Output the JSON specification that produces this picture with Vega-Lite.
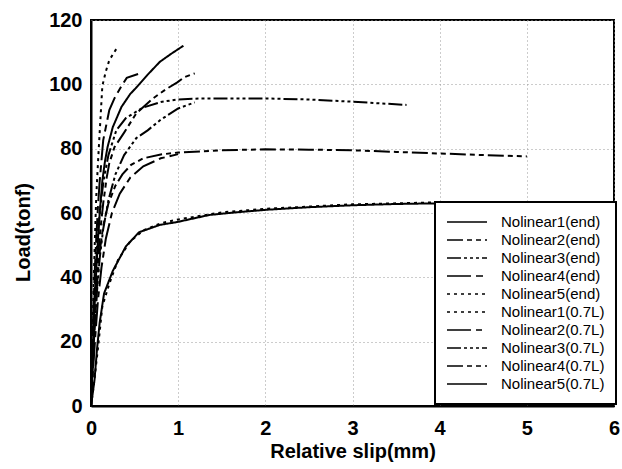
{
"$schema": "https://vega.github.io/schema/vega-lite/v6.json",
"width": 523, "height": 386,
"autosize": {"type": "none"},
"padding": {"left": 91, "top": 20, "right": 8, "bottom": 63},
"background": "white",
"config": {"view": {"stroke": "black", "strokeWidth": 2}, "font": "Liberation Sans", "legend": {"strokeWidth": 2}},
"data": {"values": [
{"s":"Nolinear1(end)","x":0,"y":0},{"s":"Nolinear1(end)","x":0.02,"y":15},{"s":"Nolinear1(end)","x":0.04,"y":30},{"s":"Nolinear1(end)","x":0.06,"y":42},{"s":"Nolinear1(end)","x":0.08,"y":52},{"s":"Nolinear1(end)","x":0.1,"y":60},{"s":"Nolinear1(end)","x":0.13,"y":70},{"s":"Nolinear1(end)","x":0.16,"y":76},{"s":"Nolinear1(end)","x":0.19,"y":80.5},{"s":"Nolinear1(end)","x":0.25,"y":86.7},{"s":"Nolinear1(end)","x":0.35,"y":93},{"s":"Nolinear1(end)","x":0.45,"y":97},{"s":"Nolinear1(end)","x":0.52,"y":99},{"s":"Nolinear1(end)","x":0.65,"y":103},{"s":"Nolinear1(end)","x":0.79,"y":107},{"s":"Nolinear1(end)","x":0.92,"y":109.5},{"s":"Nolinear1(end)","x":1.06,"y":112},
{"s":"Nolinear1(0.7L)","x":0,"y":0},{"s":"Nolinear1(0.7L)","x":0.01,"y":12},{"s":"Nolinear1(0.7L)","x":0.02,"y":25},{"s":"Nolinear1(0.7L)","x":0.03,"y":38},{"s":"Nolinear1(0.7L)","x":0.045,"y":52},{"s":"Nolinear1(0.7L)","x":0.06,"y":65},{"s":"Nolinear1(0.7L)","x":0.075,"y":73},{"s":"Nolinear1(0.7L)","x":0.09,"y":80.5},{"s":"Nolinear1(0.7L)","x":0.11,"y":90},{"s":"Nolinear1(0.7L)","x":0.13,"y":99.5},{"s":"Nolinear1(0.7L)","x":0.17,"y":104},{"s":"Nolinear1(0.7L)","x":0.21,"y":107.5},{"s":"Nolinear1(0.7L)","x":0.29,"y":111},
{"s":"Nolinear2(end)","x":0,"y":0},{"s":"Nolinear2(end)","x":0.02,"y":12},{"s":"Nolinear2(end)","x":0.04,"y":24},{"s":"Nolinear2(end)","x":0.07,"y":38},{"s":"Nolinear2(end)","x":0.1,"y":48},{"s":"Nolinear2(end)","x":0.14,"y":56},{"s":"Nolinear2(end)","x":0.2,"y":63},{"s":"Nolinear2(end)","x":0.28,"y":68.5},{"s":"Nolinear2(end)","x":0.36,"y":72},{"s":"Nolinear2(end)","x":0.46,"y":75},{"s":"Nolinear2(end)","x":0.6,"y":77},{"s":"Nolinear2(end)","x":0.8,"y":78.2},{"s":"Nolinear2(end)","x":1,"y":78.8},{"s":"Nolinear2(end)","x":1.5,"y":79.5},{"s":"Nolinear2(end)","x":2,"y":79.8},{"s":"Nolinear2(end)","x":2.5,"y":79.7},{"s":"Nolinear2(end)","x":3,"y":79.5},{"s":"Nolinear2(end)","x":3.5,"y":79},{"s":"Nolinear2(end)","x":4,"y":78.5},{"s":"Nolinear2(end)","x":4.5,"y":78},{"s":"Nolinear2(end)","x":5,"y":77.6},
{"s":"Nolinear2(0.7L)","x":0,"y":0},{"s":"Nolinear2(0.7L)","x":0.02,"y":10},{"s":"Nolinear2(0.7L)","x":0.05,"y":22},{"s":"Nolinear2(0.7L)","x":0.08,"y":33},{"s":"Nolinear2(0.7L)","x":0.12,"y":43},{"s":"Nolinear2(0.7L)","x":0.17,"y":52},{"s":"Nolinear2(0.7L)","x":0.24,"y":60},{"s":"Nolinear2(0.7L)","x":0.33,"y":66},{"s":"Nolinear2(0.7L)","x":0.45,"y":71},{"s":"Nolinear2(0.7L)","x":0.6,"y":74.5},{"s":"Nolinear2(0.7L)","x":0.8,"y":77},{"s":"Nolinear2(0.7L)","x":1,"y":78.3},
{"s":"Nolinear3(end)","x":0,"y":0},{"s":"Nolinear3(end)","x":0.015,"y":15},{"s":"Nolinear3(end)","x":0.03,"y":28},{"s":"Nolinear3(end)","x":0.05,"y":40},{"s":"Nolinear3(end)","x":0.07,"y":50},{"s":"Nolinear3(end)","x":0.09,"y":57},{"s":"Nolinear3(end)","x":0.12,"y":65},{"s":"Nolinear3(end)","x":0.15,"y":71},{"s":"Nolinear3(end)","x":0.2,"y":78},{"s":"Nolinear3(end)","x":0.29,"y":85.7},{"s":"Nolinear3(end)","x":0.4,"y":89.5},{"s":"Nolinear3(end)","x":0.59,"y":92.7},{"s":"Nolinear3(end)","x":0.8,"y":94.5},{"s":"Nolinear3(end)","x":0.99,"y":95.3},{"s":"Nolinear3(end)","x":1.25,"y":95.6},{"s":"Nolinear3(end)","x":1.5,"y":95.6},{"s":"Nolinear3(end)","x":2,"y":95.6},{"s":"Nolinear3(end)","x":2.5,"y":95.3},{"s":"Nolinear3(end)","x":3,"y":94.6},{"s":"Nolinear3(end)","x":3.3,"y":94.1},{"s":"Nolinear3(end)","x":3.62,"y":93.6},
{"s":"Nolinear3(0.7L)","x":0,"y":0},{"s":"Nolinear3(0.7L)","x":0.02,"y":12},{"s":"Nolinear3(0.7L)","x":0.04,"y":24},{"s":"Nolinear3(0.7L)","x":0.07,"y":36},{"s":"Nolinear3(0.7L)","x":0.1,"y":46},{"s":"Nolinear3(0.7L)","x":0.14,"y":55},{"s":"Nolinear3(0.7L)","x":0.2,"y":64},{"s":"Nolinear3(0.7L)","x":0.28,"y":72},{"s":"Nolinear3(0.7L)","x":0.38,"y":78},{"s":"Nolinear3(0.7L)","x":0.52,"y":83.3},{"s":"Nolinear3(0.7L)","x":0.65,"y":85.7},{"s":"Nolinear3(0.7L)","x":0.8,"y":89},{"s":"Nolinear3(0.7L)","x":1,"y":92.5},{"s":"Nolinear3(0.7L)","x":1.19,"y":94.4},
{"s":"Nolinear4(end)","x":0,"y":0},{"s":"Nolinear4(end)","x":0.01,"y":12},{"s":"Nolinear4(end)","x":0.025,"y":26},{"s":"Nolinear4(end)","x":0.04,"y":40},{"s":"Nolinear4(end)","x":0.06,"y":52},{"s":"Nolinear4(end)","x":0.08,"y":62},{"s":"Nolinear4(end)","x":0.1,"y":70},{"s":"Nolinear4(end)","x":0.14,"y":82.6},{"s":"Nolinear4(end)","x":0.21,"y":92},{"s":"Nolinear4(end)","x":0.27,"y":95.7},{"s":"Nolinear4(end)","x":0.34,"y":99},{"s":"Nolinear4(end)","x":0.41,"y":102},{"s":"Nolinear4(end)","x":0.54,"y":103.2},
{"s":"Nolinear4(0.7L)","x":0,"y":0},{"s":"Nolinear4(0.7L)","x":0.02,"y":14},{"s":"Nolinear4(0.7L)","x":0.04,"y":28},{"s":"Nolinear4(0.7L)","x":0.07,"y":42},{"s":"Nolinear4(0.7L)","x":0.1,"y":53},{"s":"Nolinear4(0.7L)","x":0.14,"y":63},{"s":"Nolinear4(0.7L)","x":0.18,"y":71},{"s":"Nolinear4(0.7L)","x":0.21,"y":75.5},{"s":"Nolinear4(0.7L)","x":0.27,"y":80.5},{"s":"Nolinear4(0.7L)","x":0.38,"y":85},{"s":"Nolinear4(0.7L)","x":0.52,"y":91},{"s":"Nolinear4(0.7L)","x":0.71,"y":95.6},{"s":"Nolinear4(0.7L)","x":0.85,"y":98.3},{"s":"Nolinear4(0.7L)","x":0.99,"y":100.6},{"s":"Nolinear4(0.7L)","x":1.07,"y":102.2},{"s":"Nolinear4(0.7L)","x":1.19,"y":103.4},
{"s":"Nolinear5(0.7L)","x":0,"y":0},{"s":"Nolinear5(0.7L)","x":0.02,"y":4},{"s":"Nolinear5(0.7L)","x":0.04,"y":8},{"s":"Nolinear5(0.7L)","x":0.07,"y":18},{"s":"Nolinear5(0.7L)","x":0.1,"y":26},{"s":"Nolinear5(0.7L)","x":0.15,"y":35},{"s":"Nolinear5(0.7L)","x":0.25,"y":42},{"s":"Nolinear5(0.7L)","x":0.4,"y":49.6},{"s":"Nolinear5(0.7L)","x":0.55,"y":54},{"s":"Nolinear5(0.7L)","x":0.79,"y":56.3},{"s":"Nolinear5(0.7L)","x":0.99,"y":57.2},{"s":"Nolinear5(0.7L)","x":1.36,"y":59.4},{"s":"Nolinear5(0.7L)","x":1.7,"y":60.3},{"s":"Nolinear5(0.7L)","x":2.01,"y":61},{"s":"Nolinear5(0.7L)","x":2.5,"y":61.8},{"s":"Nolinear5(0.7L)","x":3,"y":62.4},{"s":"Nolinear5(0.7L)","x":3.5,"y":62.8},{"s":"Nolinear5(0.7L)","x":3.95,"y":63},
{"s":"Nolinear5(end)","x":0,"y":0},{"s":"Nolinear5(end)","x":0.03,"y":6},{"s":"Nolinear5(end)","x":0.08,"y":18},{"s":"Nolinear5(end)","x":0.13,"y":31},{"s":"Nolinear5(end)","x":0.21,"y":38},{"s":"Nolinear5(end)","x":0.31,"y":45.4},{"s":"Nolinear5(end)","x":0.45,"y":51.2},{"s":"Nolinear5(end)","x":0.6,"y":54.6},{"s":"Nolinear5(end)","x":0.8,"y":56.8},{"s":"Nolinear5(end)","x":1,"y":58},{"s":"Nolinear5(end)","x":1.5,"y":60.2},{"s":"Nolinear5(end)","x":2,"y":61.3},{"s":"Nolinear5(end)","x":2.5,"y":62},{"s":"Nolinear5(end)","x":3,"y":62.7},{"s":"Nolinear5(end)","x":3.5,"y":63},{"s":"Nolinear5(end)","x":3.95,"y":63.3}
]},
"mark": {"type": "line", "color": "black", "strokeWidth": 2},
"encoding": {
  "x": {"field": "x", "type": "quantitative",
    "scale": {"domain": [0, 6], "nice": false},
    "axis": {"values": [0,1,2,3,4,5,6], "title": "Relative slip(mm)", "labelFlush": false,
      "labelFontSize": 20, "labelFontWeight": "bold", "labelColor": "black", "labelPadding": 12,
      "ticks": false, "domainColor": "black", "domainWidth": 2,
      "grid": true, "gridColor": "#999", "gridDash": [1,3], "gridWidth": 1,
      "titleFontSize": 20, "titleFontWeight": "bold", "titleColor": "black", "titlePadding": 3}},
  "y": {"field": "y", "type": "quantitative",
    "scale": {"domain": [0, 120], "nice": false},
    "axis": {"values": [0,20,40,60,80,100,120], "title": "Load(tonf)", "labelFlush": false,
      "labelFontSize": 20, "labelFontWeight": "bold", "labelColor": "black", "labelPadding": 9,
      "ticks": false, "domainColor": "black", "domainWidth": 2,
      "grid": true, "gridColor": "#999", "gridDash": [1,3], "gridWidth": 1,
      "titleFontSize": 20, "titleFontWeight": "bold", "titleColor": "black", "titleX": -58, "titleY": 212}},
  "strokeDash": {"field": "s", "type": "nominal", "sort": null,
    "scale": {"domain": ["Nolinear1(end)","Nolinear2(end)","Nolinear3(end)","Nolinear4(end)","Nolinear5(end)","Nolinear1(0.7L)","Nolinear2(0.7L)","Nolinear3(0.7L)","Nolinear4(0.7L)","Nolinear5(0.7L)"],
      "range": [[1,0],[16,4,5,4,5,4],[14,3,3,3,3,3,3,3],[24,5,7,5],[3,4],[3,4],[24,5,6,5],[14,3,3,3,3,3,3,3],[16,4,5,4,5,4],[1,0]]},
    "legend": {"orient": "none", "legendX": 344, "legendY": 182, "title": null,
      "symbolType": "stroke", "symbolSize": 1600, "symbolStrokeWidth": 1.5, "symbolStrokeColor": "black",
      "clipHeight": 18, "rowPadding": 0, "labelFontSize": 15, "labelColor": "black", "labelOffset": 13,
      "padding": 11, "strokeColor": "black", "fillColor": "white", "labelLimit": 200}}
}
}
